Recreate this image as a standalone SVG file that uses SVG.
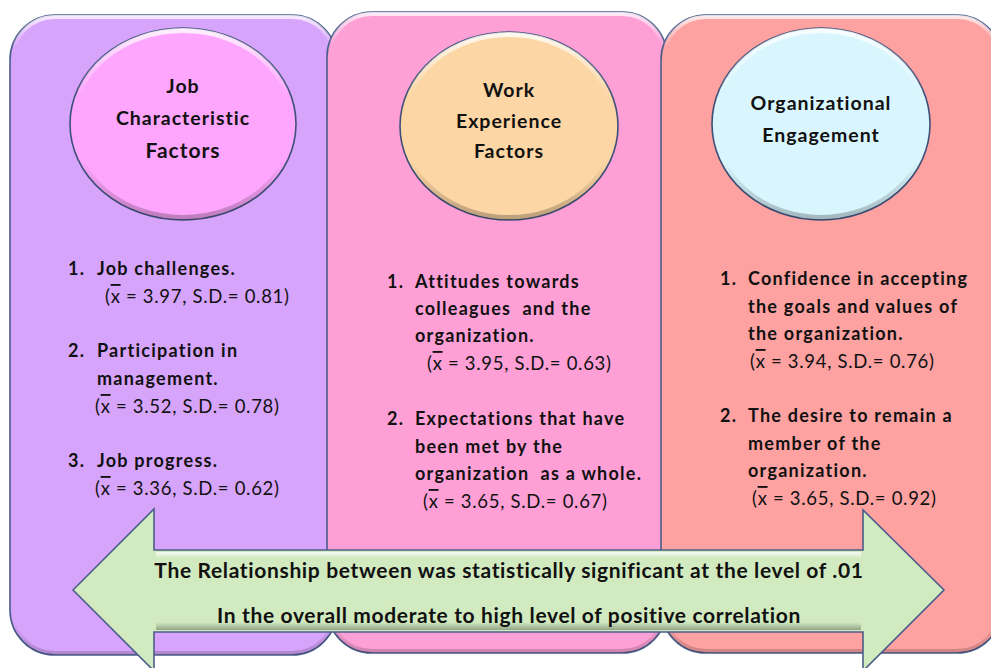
<svg xmlns="http://www.w3.org/2000/svg" width="991" height="668" viewBox="0 0 991 668">
  <style>
    .panel { stroke: #4B5D8A; stroke-width: 1.6; }
    .bevel { fill: none; stroke: url(#topGlow); stroke-width: 4; }
    .oval { stroke: #3F5078; stroke-width: 1.6; }
    .ovalEdge { fill: none; stroke: url(#ovalShade); stroke-width: 5; }
    .title { font-family: Lato, "Liberation Sans", sans-serif; font-weight: bold; font-size: 19.5px; letter-spacing: 1px; fill: #111; text-anchor: middle; }
    .item { font-family: Lato, "Liberation Sans", sans-serif; font-weight: bold; font-size: 18px; letter-spacing: 1.25px; fill: #111; }
    .stat { font-family: Lato, "Liberation Sans", sans-serif; font-size: 18.5px; letter-spacing: 0.7px; fill: #111; }
    .band { font-family: Lato, "Liberation Sans", sans-serif; font-weight: bold; font-size: 21px; letter-spacing: 0.65px; fill: #111; text-anchor: middle; }
  </style>
  <defs>
    <linearGradient id="topGlow" x1="0" y1="0" x2="0" y2="1">
      <stop offset="0" stop-color="#fff" stop-opacity="0.75"/>
      <stop offset="0.05" stop-color="#fff" stop-opacity="0"/>
      <stop offset="0.95" stop-color="#000" stop-opacity="0"/>
      <stop offset="1" stop-color="#000" stop-opacity="0.18"/>
    </linearGradient>
    <linearGradient id="ovalShade" x1="0" y1="0" x2="0" y2="1">
      <stop offset="0" stop-color="#fff" stop-opacity="0.8"/>
      <stop offset="0.35" stop-color="#fff" stop-opacity="0"/>
      <stop offset="0.7" stop-color="#000" stop-opacity="0"/>
      <stop offset="1" stop-color="#000" stop-opacity="0.25"/>
    </linearGradient>
    <linearGradient id="arrowShade" x1="0" y1="0" x2="0" y2="1">
      <stop offset="0" stop-color="#fff" stop-opacity="0.8"/>
      <stop offset="0.08" stop-color="#fff" stop-opacity="0"/>
      <stop offset="0.9" stop-color="#000" stop-opacity="0"/>
      <stop offset="1" stop-color="#000" stop-opacity="0.3"/>
    </linearGradient>
    <clipPath id="shaftClip">
      <rect x="73" y="550" width="871" height="78"/>
    </clipPath>
  </defs>

  <!-- column 1: job characteristics -->
  <g id="panel-job">
    <rect class="panel" x="10" y="15" width="327" height="640" rx="45" fill="#D7A4FC"/>
    <rect class="bevel" x="12" y="17" width="323" height="636" rx="43"/>
    <ellipse class="oval" cx="183" cy="124" rx="113" ry="96" fill="#FEA6FD"/>
    <ellipse class="ovalEdge" cx="183" cy="124" rx="110.5" ry="93.5"/>
    <text class="title" x="183" y="93">Job</text>
    <text class="title" x="183" y="125">Characteristic</text>
    <text class="title" x="183" y="158" style="font-size:21px">Factors</text>
    <text class="item" x="68" y="275">1.</text>
    <text class="item" x="97" y="275">Job challenges.</text>
    <text class="stat" x="105" y="303">(<tspan text-decoration="overline">x</tspan> = 3.97, S.D.= 0.81)</text>
    <text class="item" x="68" y="357">2.</text>
    <text class="item" x="97" y="357">Participation in</text>
    <text class="item" x="97" y="385">management.</text>
    <text class="stat" x="95" y="413">(<tspan text-decoration="overline">x</tspan> = 3.52, S.D.= 0.78)</text>
    <text class="item" x="68" y="467">3.</text>
    <text class="item" x="97" y="467">Job progress.</text>
    <text class="stat" x="95" y="495">(<tspan text-decoration="overline">x</tspan> = 3.36, S.D.= 0.62)</text>
  </g>

  <!-- column 2: work experience -->
  <g id="panel-work">
    <rect class="panel" x="327" y="12" width="340" height="641" rx="45" fill="#FEA0D6"/>
    <rect class="bevel" x="329" y="14" width="336" height="637" rx="43"/>
    <ellipse class="oval" cx="509" cy="126" rx="109" ry="94" fill="#FCD6A4"/>
    <ellipse class="ovalEdge" cx="509" cy="126" rx="106.5" ry="91.5"/>
    <text class="title" x="509" y="97">Work</text>
    <text class="title" x="509" y="128">Experience</text>
    <text class="title" x="509" y="158">Factors</text>
    <text class="item" x="387" y="288">1.</text>
    <text class="item" x="415" y="288">Attitudes towards</text>
    <text class="item" x="415" y="315" xml:space="preserve">colleagues  and the</text>
    <text class="item" x="415" y="342">organization.</text>
    <text class="stat" x="427" y="370">(<tspan text-decoration="overline">x</tspan> = 3.95, S.D.= 0.63)</text>
    <text class="item" x="387" y="425">2.</text>
    <text class="item" x="415" y="425">Expectations that have</text>
    <text class="item" x="415" y="453">been met by the</text>
    <text class="item" x="415" y="480" xml:space="preserve">organization  as a whole.</text>
    <text class="stat" x="423" y="508">(<tspan text-decoration="overline">x</tspan> = 3.65, S.D.= 0.67)</text>
  </g>

  <!-- column 3: organizational engagement -->
  <g id="panel-engagement">
    <rect class="panel" x="661" y="15" width="341" height="638" rx="45" fill="#FDA1A1"/>
    <rect class="bevel" x="663" y="17" width="337" height="634" rx="43"/>
    <ellipse class="oval" cx="821" cy="124" rx="109" ry="96" fill="#D9F6FE"/>
    <ellipse class="ovalEdge" cx="821" cy="124" rx="106.5" ry="93.5"/>
    <text class="title" x="821" y="110">Organizational</text>
    <text class="title" x="821" y="142">Engagement</text>
    <text class="item" x="720" y="285">1.</text>
    <text class="item" x="748" y="285">Confidence in accepting</text>
    <text class="item" x="748" y="313">the goals and values of</text>
    <text class="item" x="748" y="340">the organization.</text>
    <text class="stat" x="750" y="368">(<tspan text-decoration="overline">x</tspan> = 3.94, S.D.= 0.76)</text>
    <text class="item" x="720" y="422">2.</text>
    <text class="item" x="748" y="422">The desire to remain a</text>
    <text class="item" x="748" y="450">member of the</text>
    <text class="item" x="748" y="477">organization.</text>
    <text class="stat" x="752" y="505">(<tspan text-decoration="overline">x</tspan> = 3.65, S.D.= 0.92)</text>
  </g>

  <!-- two-way relationship arrow across the columns -->
  <g id="connectors">
    <path d="M73,590 L154,509 L154,550 L863,550 L863,510 L944,590 L863,671 L863,632 L154,632 L154,671 Z" fill="#D2EAC0" stroke="#4B5D8A" stroke-width="1.6" stroke-linejoin="miter"/>
    <path d="M156,552 L861,552 L861,630 L156,630 Z" fill="url(#arrowShade)"/>
    <g clip-path="url(#shaftClip)">
      <text class="band" x="509" y="578">The Relationship between was statistically significant at the level of .01</text>
      <text class="band" x="509" y="623">In the overall moderate to high level of positive correlation</text>
    </g>
  </g>
</svg>
